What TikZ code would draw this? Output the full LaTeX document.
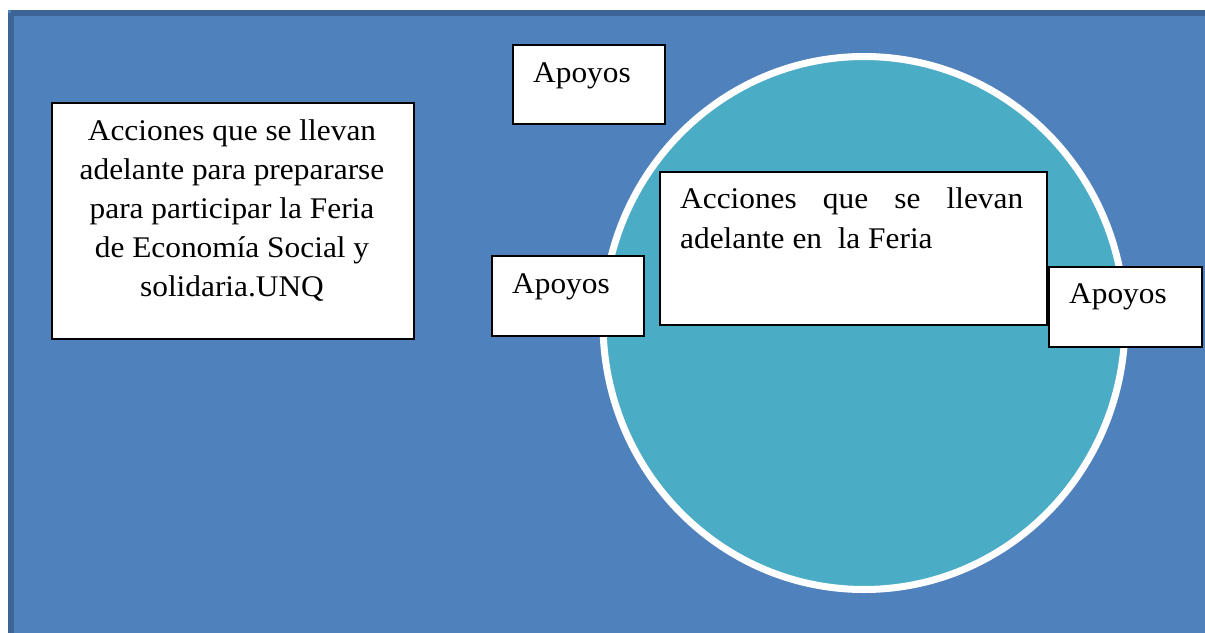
\documentclass[tikz,border=0pt]{standalone}
\usepackage{fontspec}
\setmainfont[FakeStretch=1.045]{Liberation Serif}
\usetikzlibrary{shapes.geometric}
\definecolor{bgblue}{HTML}{4F81BD}
\definecolor{bgedge}{HTML}{3C6494}
\definecolor{circ}{HTML}{4BACC6}
\tikzset{
  box/.style={draw=black, line width=2.2pt, fill=white, anchor=north west, inner sep=0pt},
  txt/.style={anchor=base west, inner sep=0pt, font=\fontsize{30}{40}\selectfont},
}
\begin{document}
\begin{tikzpicture}[x=1pt,y=-1pt]
\useasboundingbox (0,0) rectangle (1205,632);
% background panel
\fill[bgblue] (8,10) rectangle (1215,645);
\draw[bgedge, line width=5.5pt] (10.75,12.75) -- (1215,12.75);
\draw[bgedge, line width=5.5pt] (10.75,12.75) -- (10.75,645);
% circle
\node[draw=white, line width=7pt, fill=circ, ellipse, inner sep=0pt,
      minimum width=522pt, minimum height=533pt] (circle) at (864,323) {};
% boxes
\node[box, minimum width=362pt, minimum height=236pt] (left) at (51,102) {};
\node[box, minimum width=152pt, minimum height=79pt] (apTop) at (512,44) {};
\node[box, minimum width=152pt, minimum height=80pt] (apMid) at (491,255) {};
\node[box, minimum width=387pt, minimum height=153pt] (center) at (659,171) {};
\node[box, minimum width=153pt, minimum height=80pt] (apRight) at (1048,266) {};
% texts
\node[anchor=base, inner sep=0pt, font=\fontsize{30}{39}\selectfont] (leftText) at (232,140)
  {\begin{tabular}[t]{@{}c@{}}Acciones que se llevan\\ adelante para prepararse\\ para participar la Feria\\ de Economía Social y\\ solidaria.UNQ\end{tabular}};
\node[txt] (apTopText) at (533,82) {Apoyos};
\node[txt] (apMidText) at (512,293) {Apoyos};
\node[txt] (apRightText) at (1069,303) {Apoyos};
\node[txt] (centerText) at (680,208)
  {\parbox[t]{343pt}{\fontsize{30}{40}\selectfont\parindent=0pt\hbadness=10000
   \hyphenpenalty=10000\exhyphenpenalty=10000
   Acciones que se llevan adelante en\ \ la Feria}};
\end{tikzpicture}
\end{document}
